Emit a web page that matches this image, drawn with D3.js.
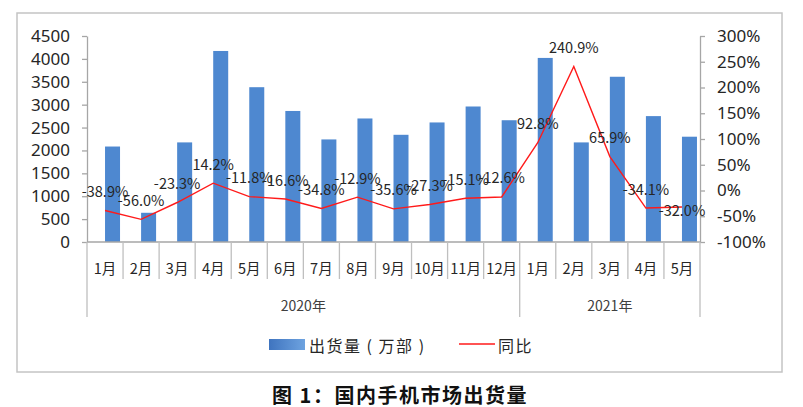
<!DOCTYPE html>
<html>
<head>
<meta charset="utf-8">
<script src="https://cdn.jsdelivr.net/npm/d3@7"></script>
<style>
  body { margin: 0; background: #fff; }
  svg text { font-family: "Noto Sans CJK SC", "Noto Sans", sans-serif; }
</style>
</head>
<body>
<div id="chart"></div>
<script>
// 月份 / 年份分组
const months = ['1月', '2月', '3月', '4月', '5月', '6月', '7月', '8月', '9月', '10月', '11月', '12月',
                '1月', '2月', '3月', '4月', '5月'];
const years = [
    { label: '2020年', start: 0, count: 12 },
    { label: '2021年', start: 12, count: 5 }
];

// 出货量（万部）
const shipments = [2085.6, 638.2, 2175.8, 4172.9, 3381.6, 2862.4, 2240.6, 2698.3, 2341.8, 2611.5, 2960, 2660,
                   4021, 2175.6, 3609.6, 2750, 2300];

// 同比 (%)
const yoy = [-38.9, -56.0, -23.3, 14.2, -11.8, -16.6, -34.8, -12.9, -35.6, -27.3, -15.1, -12.6,
             92.8, 240.9, 65.9, -34.1, -32.0];

const leftTicks = [0, 500, 1000, 1500, 2000, 2500, 3000, 3500, 4000, 4500];
const rightTicks = [-100, -50, 0, 50, 100, 150, 200, 250, 300];

const width = 803, height = 407;
const plot = { left: 87, right: 700, top: 36, bottom: 242 };

const svg = d3.select('#chart').append('svg')
    .attr('width', width)
    .attr('height', height);

// frame
svg.append('rect')
    .attr('x', 17).attr('y', 13)
    .attr('width', 765).attr('height', 359)
    .attr('fill', 'none')
    .attr('stroke', '#c4c4c4')
    .attr('stroke-width', 1.5);

const x = d3.scaleBand()
    .domain(d3.range(months.length))
    .range([plot.left, plot.right]);

const y = d3.scaleLinear()
    .domain([0, 4500])
    .range([plot.bottom, plot.top]);

const y2 = d3.scaleLinear()
    .domain([-100, 300])
    .range([plot.bottom, plot.top]);

const defs = svg.append('defs');
const grad = defs.append('linearGradient').attr('id', 'legendGrad');
grad.append('stop').attr('offset', '0%').attr('stop-color', '#3f74bf');
grad.append('stop').attr('offset', '100%').attr('stop-color', '#6ea3e0');

// bars, Excel draws them from the band centre to the right
const barW = 15;
svg.append('g')
    .selectAll('rect')
    .data(shipments)
    .join('rect')
    .attr('x', (d, i) => x(i) + x.bandwidth() / 2)
    .attr('y', d => y(d))
    .attr('width', barW)
    .attr('height', d => plot.bottom - y(d))
    .attr('fill', '#4e88d0');

// left axis
const axisLeft = svg.append('g')
    .attr('transform', `translate(${plot.left},0)`)
    .call(d3.axisLeft(y).tickValues(leftTicks).tickSize(5).tickPadding(12).tickSizeOuter(0)
        .tickFormat(d3.format('d')));

// right axis
const axisRight = svg.append('g')
    .attr('transform', `translate(${plot.right},0)`)
    .call(d3.axisRight(y2).tickValues(rightTicks).tickSize(5).tickPadding(12).tickSizeOuter(0)
        .tickFormat(d => d + '%'));

[axisLeft, axisRight].forEach(g => {
    g.select('.domain').attr('stroke', '#a6a6a6').attr('stroke-width', 1.3);
    g.selectAll('.tick line').attr('stroke', '#a6a6a6').attr('stroke-width', 1.3);
    g.selectAll('.tick text')
        .attr('fill', '#262626')
        .style('font-size', '17px')
        .style('font-family', '"Noto Sans", sans-serif');
});

// category axis with grouped labels
const cat = svg.append('g');
cat.append('line')
    .attr('x1', plot.left).attr('x2', plot.right)
    .attr('y1', plot.bottom).attr('y2', plot.bottom)
    .attr('stroke', '#a6a6a6').attr('stroke-width', 1.3);

const groupEdges = new Set();
years.forEach(g => { groupEdges.add(g.start); groupEdges.add(g.start + g.count); });

cat.selectAll('line.sep')
    .data(d3.range(months.length + 1))
    .join('line')
    .attr('class', 'sep')
    .attr('x1', i => i < months.length ? x(i) : plot.right)
    .attr('x2', i => i < months.length ? x(i) : plot.right)
    .attr('y1', plot.bottom)
    .attr('y2', i => groupEdges.has(i) ? 317 : 279)
    .attr('stroke', '#bfbfbf')
    .attr('stroke-width', 1.3);

cat.selectAll('text.month')
    .data(months)
    .join('text')
    .attr('class', 'month')
    .attr('x', (d, i) => x(i) + x.bandwidth() / 2)
    .attr('y', 267)
    .attr('text-anchor', 'middle')
    .attr('dominant-baseline', 'central')
    .attr('fill', '#262626')
    .style('font-size', '14.5px')
    .text(d => d);

cat.selectAll('text.year')
    .data(years)
    .join('text')
    .attr('class', 'year')
    .attr('x', g => (x(g.start) + (g.start + g.count < months.length ? x(g.start + g.count) : plot.right)) / 2)
    .attr('y', 305)
    .attr('text-anchor', 'middle')
    .attr('dominant-baseline', 'central')
    .attr('fill', '#404040')
    .style('font-size', '14px')
    .text(g => g.label);

// 同比 line
const line = d3.line()
    .x((d, i) => x(i) + x.bandwidth() / 2)
    .y(d => y2(d));

svg.append('path')
    .datum(yoy)
    .attr('fill', 'none')
    .attr('stroke', '#ff1a1a')
    .attr('stroke-width', 1.4)
    .attr('d', line);

svg.append('g')
    .selectAll('text')
    .data(yoy)
    .join('text')
    .attr('x', (d, i) => x(i) + x.bandwidth() / 2)
    .attr('y', (d, i) => y2(d) - (i === yoy.length - 1 ? -3 : 20))
    .attr('text-anchor', 'middle')
    .attr('dominant-baseline', 'central')
    .attr('fill', '#262626')
    .style('font-size', '14.5px')
    .text(d => d.toFixed(1) + '%');

// legend
const legend = svg.append('g');
legend.append('rect')
    .attr('x', 269).attr('y', 339)
    .attr('width', 36).attr('height', 11)
    .attr('fill', 'url(#legendGrad)');
legend.append('text')
    .attr('x', 309).attr('y', 345)
    .attr('dominant-baseline', 'central')
    .attr('fill', '#262626')
    .style('font-size', '16px')
    .style('letter-spacing', '1.5px')
    .text('出货量 ( 万部 )');
legend.append('line')
    .attr('x1', 459).attr('x2', 495)
    .attr('y1', 344).attr('y2', 344)
    .attr('stroke', '#ff1a1a')
    .attr('stroke-width', 1.5);
legend.append('text')
    .attr('x', 498).attr('y', 345)
    .attr('dominant-baseline', 'central')
    .attr('fill', '#262626')
    .style('font-size', '16px')
    .style('letter-spacing', '1.5px')
    .text('同比');

// caption
svg.append('text')
    .attr('x', 400).attr('y', 394)
    .attr('text-anchor', 'middle')
    .attr('dominant-baseline', 'central')
    .attr('fill', '#111')
    .style('font-size', '20px')
    .style('font-weight', 'bold')
    .style('letter-spacing', '1.5px')
    .text('图 1：国内手机市场出货量');
</script>
</body>
</html>
